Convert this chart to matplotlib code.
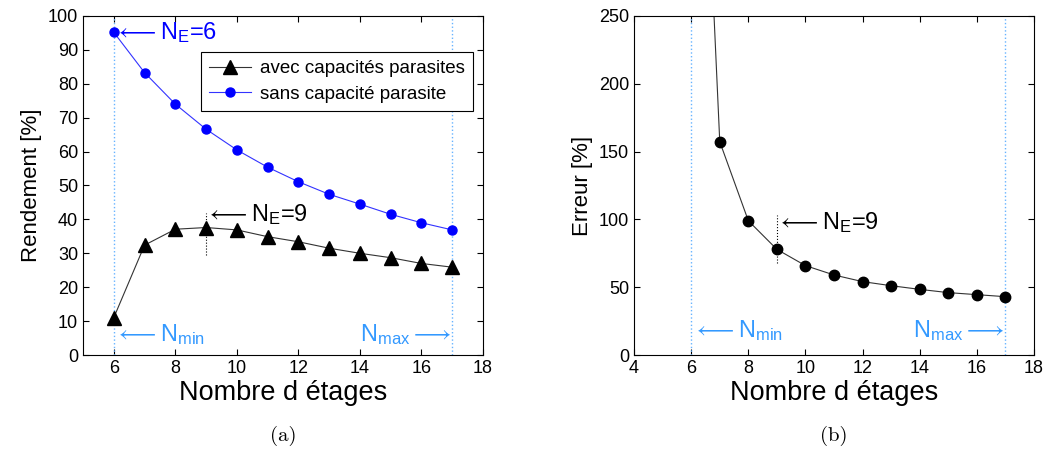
import numpy as np
import matplotlib.pyplot as plt

plt.rcParams['font.family'] = ['Liberation Sans', 'DejaVu Sans']
plt.rcParams['mathtext.fontset'] = 'custom'
plt.rcParams['mathtext.rm'] = 'Liberation Sans'
plt.rcParams['mathtext.it'] = 'Liberation Sans'

# data
etages = [6, 7, 8, 9, 10, 11, 12, 13, 14, 15, 16, 17]
rend_avec = [11.0, 32.4, 37.1, 37.6, 36.9, 34.9, 33.4, 31.5, 30.0, 28.7, 27.0, 25.9]
rend_sans = [95.2, 83.3, 74.0, 66.6, 60.5, 55.4, 51.1, 47.4, 44.5, 41.5, 39.0, 36.9]
erreur = [620.0, 157.3, 99.0, 77.9, 65.9, 59.0, 54.1, 51.1, 48.4, 46.0, 44.5, 43.0]

n_min = 6
n_max = 17
n_opt = 9

lblue = '#3399ff'
dotblue = '#66b3ff'

fig = plt.figure(figsize=(10.48, 4.62), dpi=100)
ax1 = fig.add_axes([0.0792, 0.2316, 0.3817, 0.7338])
ax2 = fig.add_axes([0.605, 0.2316, 0.3817, 0.7338])

# (a) rendement
for xv in (n_min, n_max):
    ax1.axvline(xv, color=dotblue, ls=':', lw=1)
ax1.plot([n_opt, n_opt], [29.5, 42], color='k', ls=':', lw=0.8)
ax1.plot(etages, rend_avec, color='#333333', lw=0.8, marker='^', ms=10,
         mfc='k', mec='k', label='avec capacités parasites')
ax1.plot(etages, rend_sans, color='#3333ff', lw=0.8, marker='o', ms=6.5,
         mfc='b', mec='b', label='sans capacité parasite')
ax1.text(6.05, rend_sans[0], r'$\longleftarrow\mathregular{N_E}$=6', color='b',
         fontsize=17, va='center')
ax1.text(9.0, 41.5, r'$\longleftarrow\mathregular{N_E}$=9', color='k',
         fontsize=17, va='center')
ax1.text(6.05, 6, r'$\longleftarrow\mathregular{N_{min}}$', color=lblue,
         fontsize=17, va='center')
ax1.text(16.95, 6, r'$\mathregular{N_{max}}\longrightarrow$', color=lblue,
         fontsize=17, va='center', ha='right')
ax1.set_xlim(5, 18)
ax1.set_ylim(0, 100)
ax1.set_xticks(np.arange(6, 19, 2))
ax1.set_yticks(np.arange(0, 101, 10))
ax1.set_xlabel('Nombre d étages', fontsize=19.5, labelpad=2)
ax1.set_ylabel('Rendement [%]', fontsize=16)
leg = ax1.legend(loc='upper left', bbox_to_anchor=(0.295, 0.894), fontsize=13.5,
                 fancybox=False, edgecolor='k', framealpha=1, borderpad=0.45,
                 borderaxespad=0, handlelength=2.2, labelspacing=0.45,
                 handletextpad=0.5)
leg.get_frame().set_linewidth(0.8)
ax1.text(0.5, -0.24, '(a)', transform=ax1.transAxes, ha='center', va='center',
         fontsize=15, family='cmr10')

# (b) erreur
for xv in (n_min, n_max):
    ax2.axvline(xv, color=dotblue, ls=':', lw=1)
ax2.plot([n_opt, n_opt], [68, 103], color='k', ls=':', lw=0.8)
ax2.plot(etages, erreur, color='#333333', lw=0.8, marker='o', ms=7.5,
         mfc='k', mec='k')
ax2.text(9.0, 98, r'$\longleftarrow\mathregular{N_E}$=9', color='k',
         fontsize=17, va='center')
ax2.text(6.05, 18, r'$\longleftarrow\mathregular{N_{min}}$', color=lblue,
         fontsize=17, va='center')
ax2.text(16.95, 18, r'$\mathregular{N_{max}}\longrightarrow$', color=lblue,
         fontsize=17, va='center', ha='right')
ax2.set_xlim(4, 18)
ax2.set_ylim(0, 250)
ax2.set_xticks(np.arange(4, 19, 2))
ax2.set_yticks(np.arange(0, 251, 50))
ax2.set_xlabel('Nombre d étages', fontsize=19.5, labelpad=2)
ax2.set_ylabel('Erreur [%]', fontsize=16)
ax2.text(0.5, -0.24, '(b)', transform=ax2.transAxes, ha='center', va='center',
         fontsize=15, family='cmr10')

for ax in (ax1, ax2):
    ax.tick_params(direction='in', top=True, right=True, labelsize=13, length=4)
    for s in ax.spines.values():
        s.set_linewidth(0.8)

fig.savefig('out.png', dpi=100)
